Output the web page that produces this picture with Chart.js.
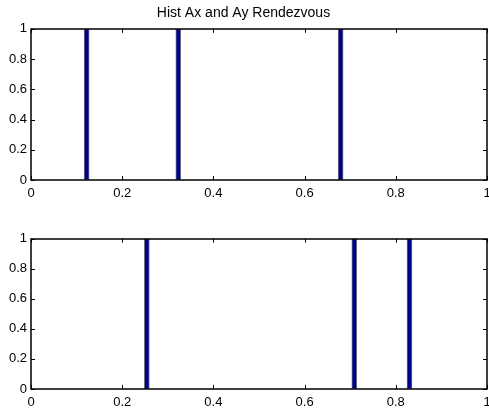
<!DOCTYPE html>
<html>
<head>
<meta charset="utf-8">
<script src="https://cdn.jsdelivr.net/npm/chart.js@4"></script>
<style>
  html, body { margin: 0; padding: 0; background: #fff; overflow: hidden; }
  #wrap { position: relative; width: 489px; height: 412px; overflow: hidden; }
  canvas { position: absolute; left: 0; }
  #c1 { top: 0; }
  #c2 { top: 209px; }
</style>
</head>
<body>
<div id="wrap">
  <canvas id="c1" width="500" height="205"></canvas>
  <canvas id="c2" width="500" height="205"></canvas>
</div>
<script>
// bin centres and counts
const topCenters = [0.122, 0.323, 0.679];
const topCounts = [1, 1, 1];
const bottomCenters = [0.254, 0.709, 0.830];
const bottomCounts = [1, 1, 1];
const xTickValues = [0, 0.2, 0.4, 0.6, 0.8, 1];
const yTickValues = [0, 0.2, 0.4, 0.6, 0.8, 1];
const titleText = "Hist Ax and Ay Rendezvous";

const fontFamily = "'Liberation Sans', Arial, Helvetica, sans-serif";

// matlab-ish box with inward tick marks
const boxPlugin = {
  id: "box",
  afterDraw(chart) {
    const ctx = chart.ctx;
    const a = chart.chartArea;
    const len = 4;
    ctx.save();
    ctx.strokeStyle = "#000";
    ctx.lineWidth = 1;
    ctx.beginPath();
    chart.scales.x.ticks.forEach(t => {
      const px = Math.round(chart.scales.x.getPixelForValue(t.value)) + 0.5;
      ctx.moveTo(px, a.bottom); ctx.lineTo(px, a.bottom - len);
      ctx.moveTo(px, a.top); ctx.lineTo(px, a.top + len);
    });
    chart.scales.y.ticks.forEach(t => {
      const py = Math.round(chart.scales.y.getPixelForValue(t.value)) + 0.5;
      ctx.moveTo(a.left, py); ctx.lineTo(a.left + len, py);
      ctx.moveTo(a.right, py); ctx.lineTo(a.right - len, py);
    });
    ctx.stroke();
    ctx.lineWidth = 1.5;
    ctx.strokeRect(Math.round(a.left), Math.round(a.top), Math.round(a.right - a.left), Math.round(a.bottom - a.top));
    ctx.restore();
  }
};

const fmt = v => String(Math.round(v * 10) / 10);

function makeChart(id, centers, counts, withTitle) {
  const ctx = document.getElementById(id).getContext("2d");
  return new Chart(ctx, {
    type: "bar",
    data: {
      datasets: [{
        data: centers.map((c, i) => ({ x: c, y: counts[i] })),
        backgroundColor: "#00008f",
        borderColor: "#6f6f7f",
        borderWidth: 1,
        barThickness: 5,
        borderSkipped: false
      }]
    },
    options: {
      responsive: false,
      animation: false,
      layout: { padding: { top: withTitle ? 0 : 29.6, right: 13, left: 0, bottom: 0 } },
      plugins: {
        legend: { display: false },
        tooltip: { enabled: false },
        title: {
          display: withTitle,
          text: titleText,
          color: "#000",
          font: { family: fontFamily, size: 14, weight: "normal" },
          padding: { top: 5, bottom: 7 }
        }
      },
      scales: {
        x: {
          type: "linear",
          offset: false,
          min: 0,
          max: 1,
          afterBuildTicks: s => { s.ticks = xTickValues.map(v => ({ value: v })); },
          afterFit: s => { s.height = 25; },
          grid: { display: false, drawTicks: false, offset: false },
          border: { display: false },
          ticks: {
            color: "#000",
            padding: 6,
            maxRotation: 0,
            callback: fmt,
            font: { family: fontFamily, size: 13 }
          }
        },
        y: {
          min: 0,
          max: 1,
          afterBuildTicks: s => { s.ticks = yTickValues.map(v => ({ value: v })); },
          afterFit: s => { s.width = 31; },
          grid: { display: false, drawTicks: false },
          border: { display: false },
          ticks: {
            color: "#000",
            padding: 4,
            callback: fmt,
            font: { family: fontFamily, size: 13 }
          }
        }
      }
    },
    plugins: [boxPlugin]
  });
}

makeChart("c1", topCenters, topCounts, true);
makeChart("c2", bottomCenters, bottomCounts, false);
</script>
</body>
</html>
